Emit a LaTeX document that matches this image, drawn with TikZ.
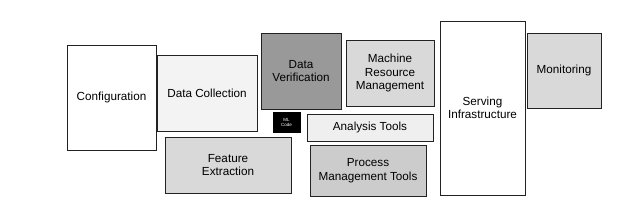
\documentclass[tikz,border=0pt]{standalone}
\usepackage{fontspec}
\setmainfont{Liberation Sans}
\definecolor{grA}{HTML}{F3F3F3}
\definecolor{grB}{HTML}{D9D9D9}
\definecolor{grC}{HTML}{999999}
\definecolor{grD}{HTML}{CCCCCC}
\definecolor{grE}{HTML}{EFEFEF}
\definecolor{edge}{HTML}{222222}
\begin{document}
\begin{tikzpicture}[x=1pt,y=-1pt,
  blk/.style={draw=edge,line width=0.8pt,align=center,inner sep=0pt,
    font=\fontsize{11.7}{13.6}\selectfont,text=black},
  mlcode/.style={fill=black,draw=black,align=center,inner sep=0pt,
    font=\fontsize{4.5}{5}\selectfont,text=white}]
\useasboundingbox (0,0) rectangle (639,201);
\newcommand{\blkat}[7]{%
  \node[blk,fill=#6,minimum width={#3-#1},minimum height={#4-#2}]
    (#5) at ({(#1+#3)/2},{(#2+#4)/2}) {#7};}
\blkat{67}{45}{156}{150}{conf}{white}{Configuration}
\blkat{157}{55}{257}{131}{coll}{grA}{Data Collection}
\blkat{165}{137}{291}{193}{feat}{grB}{Feature\\Extraction}
\blkat{261}{33}{341}{109}{verif}{grC}{Data\\Verification}
\blkat{346}{40}{434}{106}{mrm}{grB}{Machine\\Resource\\Management}
\blkat{307}{114}{433}{141}{anal}{grE}{Analysis Tools}
\blkat{310}{145}{426}{196}{proc}{grD}{Process\\Management Tools}
\blkat{440}{21}{525}{195}{serv}{white}{Serving\\Infrastructure}
\blkat{527}{33}{601}{108}{mon}{grB}{Monitoring}
\node[mlcode,minimum width=27,minimum height=20] (ml) at (286.5,122) {ML\\Code};
\end{tikzpicture}
\end{document}
